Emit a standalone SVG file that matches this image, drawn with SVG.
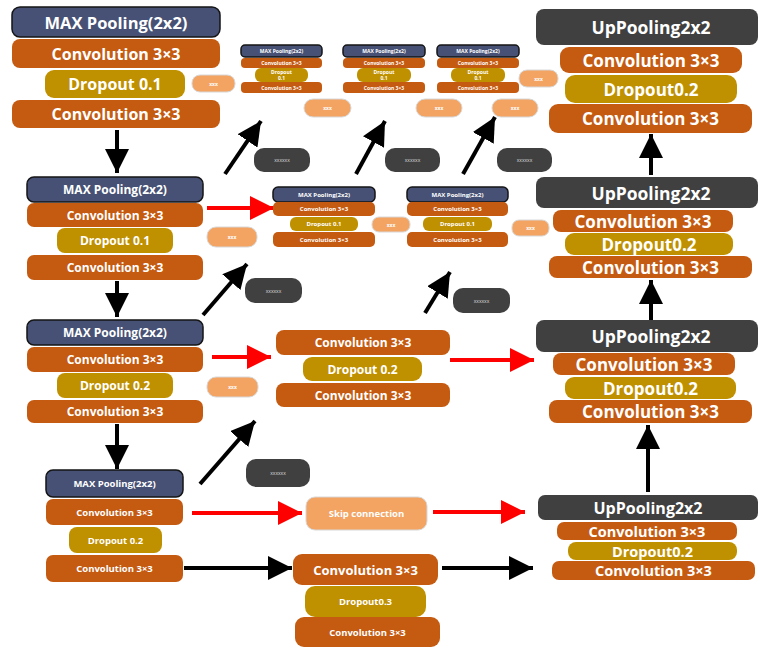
<svg xmlns="http://www.w3.org/2000/svg" width="760" height="652" viewBox="0 0 760 652">
<defs>
<marker id="ah" viewBox="0 0 6 6" markerWidth="6" markerHeight="6" refX="6" refY="3" orient="auto" markerUnits="strokeWidth"><path d="M0,0 L6,3 L0,6 z" fill="#000"/></marker>
<marker id="ahr" viewBox="0 0 6 6" markerWidth="6" markerHeight="6" refX="6" refY="3" orient="auto" markerUnits="strokeWidth"><path d="M0,0 L6,3 L0,6 z" fill="#ff0000"/></marker>
<style>
.mp{fill:#465175;stroke:#151515;stroke-width:1.5}
.cv{fill:#c55a11}
.dp{fill:#bf9000}
.up{fill:#404040}
.lp{fill:#f3a362;stroke:#d8d8d8;stroke-width:1}
.dk{fill:#404040}
.t{font-family:"Open Sans","Liberation Sans",sans-serif;font-weight:700;fill:#fff;text-anchor:middle;dominant-baseline:central}
.g{fill:#ddd;font-weight:400}
.k{stroke:#000;stroke-width:4;fill:none;marker-end:url(#ah)}
.r{stroke:#ff0000;stroke-width:4;fill:none;marker-end:url(#ahr)}
</style>
</defs>
<rect width="760" height="652" fill="#fff"/>

<g id="connectors">
<line class="k" x1="117" y1="130" x2="117" y2="173"/>
<line class="k" x1="117" y1="281" x2="117" y2="317"/>
<line class="k" x1="117" y1="424" x2="117" y2="469"/>
<line class="k" x1="651" y1="175" x2="651" y2="134"/>
<line class="k" x1="651" y1="320" x2="651" y2="280"/>
<line class="k" x1="648" y1="492" x2="648" y2="425"/>
<line class="k" x1="225" y1="174" x2="261" y2="121"/>
<line class="k" x1="356" y1="174" x2="385" y2="121"/>
<line class="k" x1="463" y1="174" x2="495" y2="117"/>
<line class="k" x1="203" y1="315" x2="247" y2="264"/>
<line class="k" x1="425" y1="313" x2="450" y2="272"/>
<line class="k" x1="200" y1="484" x2="255" y2="421"/>
<line class="r" x1="207" y1="208" x2="274" y2="208"/>
<line class="r" x1="212" y1="357" x2="271" y2="357"/>
<line class="r" x1="450" y1="360" x2="534" y2="360"/>
<line class="r" x1="192" y1="513" x2="302" y2="513"/>
<line class="r" x1="433" y1="512" x2="525" y2="512"/>
<line class="k" x1="184" y1="568" x2="292" y2="568"/>
<line class="k" x1="442" y1="568" x2="533" y2="568"/>
</g>

<g id="enc1">
<rect class="mp" x="12" y="7" width="208" height="30" rx="8"/>
<text class="t" x="116" y="22" font-size="16.5">MAX Pooling(2x2)</text>
<rect class="cv" x="12" y="39" width="208" height="29" rx="8"/>
<text class="t" x="116" y="53.5" font-size="16">Convolution 3×3</text>
<rect class="dp" x="45" y="70" width="140" height="28" rx="9"/>
<text class="t" x="115" y="84" font-size="16">Dropout 0.1</text>
<rect class="cv" x="12" y="100" width="208" height="28" rx="8"/>
<text class="t" x="116" y="114" font-size="16">Convolution 3×3</text>
</g>
<g id="enc2">
<rect class="mp" x="27" y="177" width="176" height="25" rx="7"/>
<text class="t" x="115" y="189.5" font-size="12">MAX Pooling(2x2)</text>
<rect class="cv" x="27" y="203" width="176" height="24" rx="7"/>
<text class="t" x="115" y="215" font-size="12">Convolution 3×3</text>
<rect class="dp" x="57" y="228" width="116" height="25" rx="8"/>
<text class="t" x="115" y="240.5" font-size="12">Dropout 0.1</text>
<rect class="cv" x="27" y="255" width="176" height="25" rx="7"/>
<text class="t" x="115" y="267.5" font-size="12">Convolution 3×3</text>
</g>
<g id="enc3">
<rect class="mp" x="27" y="320" width="176" height="25" rx="7"/>
<text class="t" x="115" y="332.5" font-size="12">MAX Pooling(2x2)</text>
<rect class="cv" x="27" y="347" width="176" height="25" rx="7"/>
<text class="t" x="115" y="359.5" font-size="12">Convolution 3×3</text>
<rect class="dp" x="57" y="373" width="116" height="25" rx="8"/>
<text class="t" x="115" y="385.5" font-size="12">Dropout 0.2</text>
<rect class="cv" x="27" y="400" width="176" height="23" rx="7"/>
<text class="t" x="115" y="411.5" font-size="12">Convolution 3×3</text>
</g>
<g id="enc4">
<rect class="mp" x="46" y="470" width="137" height="27" rx="7"/>
<text class="t" x="114.5" y="483.5" font-size="9.5">MAX Pooling(2x2)</text>
<rect class="cv" x="46" y="499" width="137" height="26" rx="7"/>
<text class="t" x="114.5" y="512" font-size="9.5">Convolution 3×3</text>
<rect class="dp" x="69" y="527" width="93" height="26" rx="8"/>
<text class="t" x="115.5" y="540" font-size="9.5">Dropout 0.2</text>
<rect class="cv" x="46" y="555" width="137" height="27" rx="7"/>
<text class="t" x="114.5" y="568.5" font-size="9.5">Convolution 3×3</text>
</g>

<g id="topA">
<rect class="mp" x="241" y="45" width="81" height="12" rx="4" stroke-width="1"/>
<text class="t" x="281.5" y="51" font-size="5">MAX Pooling(2x2)</text>
<rect class="cv" x="241" y="58" width="81" height="10" rx="4"/>
<text class="t" x="281.5" y="63" font-size="5">Convolution 3×3</text>
<rect class="dp" x="255" y="68" width="53" height="14" rx="6"/>
<text class="t" x="281.5" y="72" font-size="5">Dropout</text>
<text class="t" x="281.5" y="78" font-size="5">0.1</text>
<rect class="cv" x="241" y="82" width="81" height="11" rx="4"/>
<text class="t" x="281.5" y="87.5" font-size="5">Convolution 3×3</text>
</g>
<g id="topB">
<rect class="mp" x="343" y="45" width="82" height="12" rx="4" stroke-width="1"/>
<text class="t" x="384" y="51" font-size="5">MAX Pooling(2x2)</text>
<rect class="cv" x="343" y="58" width="82" height="10" rx="4"/>
<text class="t" x="384" y="63" font-size="5">Convolution 3×3</text>
<rect class="dp" x="357" y="68" width="54" height="14" rx="6"/>
<text class="t" x="384" y="72" font-size="5">Dropout</text>
<text class="t" x="384" y="78" font-size="5">0.1</text>
<rect class="cv" x="343" y="82" width="82" height="11" rx="4"/>
<text class="t" x="384" y="87.5" font-size="5">Convolution 3×3</text>
</g>
<g id="topC">
<rect class="mp" x="437" y="45" width="82" height="12" rx="4" stroke-width="1"/>
<text class="t" x="478" y="51" font-size="5">MAX Pooling(2x2)</text>
<rect class="cv" x="437" y="58" width="82" height="10" rx="4"/>
<text class="t" x="478" y="63" font-size="5">Convolution 3×3</text>
<rect class="dp" x="451" y="68" width="54" height="14" rx="6"/>
<text class="t" x="478" y="72" font-size="5">Dropout</text>
<text class="t" x="478" y="78" font-size="5">0.1</text>
<rect class="cv" x="437" y="82" width="82" height="11" rx="4"/>
<text class="t" x="478" y="87.5" font-size="5">Convolution 3×3</text>
</g>

<g id="midD">
<rect class="mp" x="273" y="187" width="102" height="15" rx="5" stroke-width="1"/>
<text class="t" x="324" y="194.5" font-size="6">MAX Pooling(2x2)</text>
<rect class="cv" x="273" y="202" width="102" height="14" rx="5"/>
<text class="t" x="324" y="209" font-size="6">Convolution 3×3</text>
<rect class="dp" x="290" y="217" width="68" height="14" rx="6"/>
<text class="t" x="324" y="224" font-size="6">Dropout 0.1</text>
<rect class="cv" x="273" y="232" width="102" height="15" rx="5"/>
<text class="t" x="324" y="239.5" font-size="6">Convolution 3×3</text>
</g>
<g id="midE">
<rect class="mp" x="407" y="187" width="101" height="15" rx="5" stroke-width="1"/>
<text class="t" x="457.5" y="194.5" font-size="6">MAX Pooling(2x2)</text>
<rect class="cv" x="407" y="202" width="101" height="14" rx="5"/>
<text class="t" x="457.5" y="209" font-size="6">Convolution 3×3</text>
<rect class="dp" x="423" y="217" width="69" height="14" rx="6"/>
<text class="t" x="457.5" y="224" font-size="6">Dropout 0.1</text>
<rect class="cv" x="407" y="232" width="101" height="15" rx="5"/>
<text class="t" x="457.5" y="239.5" font-size="6">Convolution 3×3</text>
</g>

<g id="mid3">
<rect class="cv" x="276" y="330" width="174" height="25" rx="8"/>
<text class="t" x="363" y="342.5" font-size="12">Convolution 3×3</text>
<rect class="dp" x="303" y="357" width="119" height="24" rx="9"/>
<text class="t" x="362.5" y="369" font-size="12">Dropout 0.2</text>
<rect class="cv" x="276" y="383" width="174" height="24" rx="8"/>
<text class="t" x="363" y="395" font-size="12">Convolution 3×3</text>
</g>

<g id="skip">
<rect class="lp" x="306" y="497" width="121" height="33" rx="9"/>
<text class="t" x="366.5" y="513.5" font-size="9.5">Skip connection</text>
</g>

<g id="bottleneck">
<rect class="cv" x="293" y="554" width="145" height="31" rx="9"/>
<text class="t" x="365.5" y="569.5" font-size="13">Convolution 3×3</text>
<rect class="dp" x="305" y="586" width="121" height="31" rx="10"/>
<text class="t" x="365.5" y="601.5" font-size="9.5">Dropout0.3</text>
<rect class="cv" x="295" y="617" width="145" height="30" rx="9"/>
<text class="t" x="367.5" y="632" font-size="9.5">Convolution 3×3</text>
</g>

<g id="dec1">
<rect class="up" x="536" y="9" width="222" height="36" rx="8"/>
<text class="t" x="651" y="27" font-size="17.5">UpPooling2x2</text>
<rect class="cv" x="560" y="47" width="182" height="26" rx="9"/>
<text class="t" x="651" y="60" font-size="17">Convolution 3×3</text>
<rect class="dp" x="565" y="75" width="172" height="28" rx="10"/>
<text class="t" x="651" y="89" font-size="17">Dropout0.2</text>
<rect class="cv" x="549" y="104" width="203" height="29" rx="9"/>
<text class="t" x="650.5" y="118.5" font-size="17">Convolution 3×3</text>
</g>
<g id="dec2">
<rect class="up" x="536" y="177" width="222" height="31" rx="8"/>
<text class="t" x="651" y="192.5" font-size="17.5">UpPooling2x2</text>
<rect class="cv" x="553" y="210" width="180" height="22" rx="8"/>
<text class="t" x="643" y="221" font-size="17">Convolution 3×3</text>
<rect class="dp" x="565" y="233" width="168" height="22" rx="9"/>
<text class="t" x="649" y="244" font-size="17">Dropout0.2</text>
<rect class="cv" x="549" y="256" width="203" height="22" rx="8"/>
<text class="t" x="650.5" y="267" font-size="17">Convolution 3×3</text>
</g>
<g id="dec3">
<rect class="up" x="536" y="320" width="222" height="32" rx="8"/>
<text class="t" x="651" y="336" font-size="17.5">UpPooling2x2</text>
<rect class="cv" x="553" y="353" width="182" height="22" rx="8"/>
<text class="t" x="644" y="364" font-size="17">Convolution 3×3</text>
<rect class="dp" x="565" y="377" width="171" height="22" rx="9"/>
<text class="t" x="650.5" y="388" font-size="17">Dropout0.2</text>
<rect class="cv" x="549" y="400" width="203" height="23" rx="8"/>
<text class="t" x="650.5" y="411.5" font-size="17">Convolution 3×3</text>
</g>
<g id="dec4">
<rect class="up" x="538" y="495" width="220" height="25" rx="7"/>
<text class="t" x="648" y="507.5" font-size="16">UpPooling2x2</text>
<rect class="cv" x="557" y="522" width="180" height="18" rx="7"/>
<text class="t" x="647" y="531" font-size="14.5">Convolution 3×3</text>
<rect class="dp" x="568" y="542" width="169" height="18" rx="8"/>
<text class="t" x="652.5" y="551" font-size="14.5">Dropout0.2</text>
<rect class="cv" x="552" y="561" width="203" height="19" rx="7"/>
<text class="t" x="653.5" y="570.5" font-size="14.5">Convolution 3×3</text>
</g>

<g id="pills">
<rect class="lp" x="192" y="75" width="43" height="17" rx="8"/>
<text class="t" x="213.5" y="83.5" font-size="5">xxx</text>
<rect class="lp" x="519" y="70" width="39" height="17" rx="8"/>
<text class="t" x="538.5" y="78.5" font-size="5">xxx</text>
<rect class="lp" x="304" y="99" width="47" height="18" rx="9"/>
<text class="t" x="327.5" y="108" font-size="5">xxx</text>
<rect class="lp" x="416" y="99" width="46" height="18" rx="9"/>
<text class="t" x="439" y="108" font-size="5">xxx</text>
<rect class="lp" x="492" y="99" width="46" height="18" rx="9"/>
<text class="t" x="515" y="108" font-size="5">xxx</text>
<rect class="lp" x="207" y="227" width="50" height="20" rx="9"/>
<text class="t" x="232" y="237" font-size="5">xxx</text>
<rect class="lp" x="372" y="217" width="38" height="15" rx="7"/>
<text class="t" x="391" y="224.5" font-size="5">xxx</text>
<rect class="lp" x="512" y="220" width="37" height="16" rx="7"/>
<text class="t" x="530.5" y="228" font-size="5">xxx</text>
<rect class="lp" x="207" y="377" width="51" height="20" rx="9"/>
<text class="t" x="232.5" y="387" font-size="5">xxx</text>
<rect class="dk" x="254" y="148" width="56" height="24" rx="10"/>
<text class="t g" x="282" y="160" font-size="5">xxxxxx</text>
<rect class="dk" x="385" y="148" width="55" height="24" rx="10"/>
<text class="t g" x="412.5" y="160" font-size="5">xxxxxx</text>
<rect class="dk" x="497" y="148" width="55" height="24" rx="10"/>
<text class="t g" x="524.5" y="160" font-size="5">xxxxxx</text>
<rect class="dk" x="245" y="278" width="57" height="25" rx="10"/>
<text class="t g" x="273.5" y="290.5" font-size="5">xxxxxx</text>
<rect class="dk" x="453" y="288" width="57" height="25" rx="10"/>
<text class="t g" x="481.5" y="300.5" font-size="5">xxxxxx</text>
<rect class="dk" x="246" y="459" width="64" height="28" rx="10"/>
<text class="t g" x="278" y="473" font-size="5">xxxxxx</text>
</g>
</svg>
